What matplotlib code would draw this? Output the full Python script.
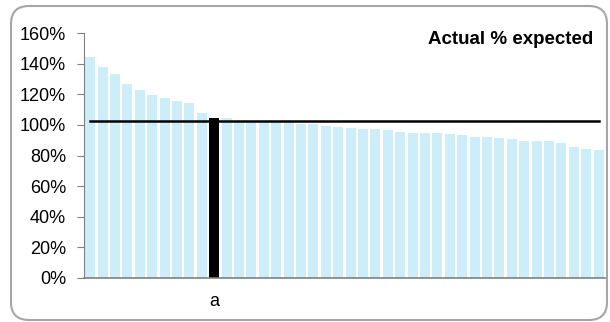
import numpy as np
import matplotlib
matplotlib.use('Agg')
import matplotlib.pyplot as plt
from matplotlib.patches import FancyBboxPatch

plt.rcParams['font.family'] = ['Liberation Sans', 'DejaVu Sans']

# actual % of expected, sorted descending
values = [144.7, 138.2, 133.4, 126.7, 122.9, 119.6, 117.7, 115.7, 114.4, 107.9,
          104.8, 104.4, 102.0, 102.0, 102.0, 102.0, 102.0, 100.9, 100.7, 99.6,
          98.7, 98.0, 97.4, 97.4, 96.7, 95.4, 95.0, 94.8, 94.8, 94.1,
          93.4, 92.4, 91.9, 91.3, 90.8, 89.5, 89.5, 89.5, 88.2, 85.4,
          84.3, 83.6]
highlight = 10          # the bar labelled "a"
highlight_label = 'a'
reference = 102.5       # overall average line
yticks = [0, 20, 40, 60, 80, 100, 120, 140, 160]

fig = plt.figure(figsize=(6.1, 3.22), dpi=100)

# rounded frame around the chart
bg = fig.add_axes([0, 0, 1, 1])
bg.set_xlim(0, 610)
bg.set_ylim(322, 0)
bg.axis('off')
bg.add_patch(FancyBboxPatch((11, 6), 596, 314, boxstyle='round,pad=0,rounding_size=18',
                            fc='white', ec='#a6a6a6', lw=1.5))

ax = fig.add_axes([84 / 610, 44.3 / 322, 520.8 / 610, 244.4 / 322])
ax.patch.set_alpha(0)
x = np.arange(len(values))
colors = ['#cdedf9'] * len(values)
colors[highlight] = 'black'
ax.bar(x, values, width=0.8, color=colors)
ax.plot([x[0], x[-1]], [reference, reference], color='black', lw=1.8)

ax.set_xlim(-0.5, len(values) - 0.5)
ax.set_ylim(0, 160)
ax.set_yticks(yticks)
ax.set_yticklabels([f'{t}%' for t in yticks], fontsize=13)
ax.set_xticks([highlight])
ax.set_xticklabels([highlight_label], fontsize=13)
ax.tick_params(axis='x', length=0, pad=11)
ax.tick_params(axis='y', length=5, color='#808080', pad=8)
for s in ['top', 'right']:
    ax.spines[s].set_visible(False)
ax.spines['left'].set_color('#808080')
ax.spines['bottom'].set_color('#808080')
ax.spines['bottom'].set_linewidth(1.2)

fig.text(593 / 610, 1 - 39 / 322, 'Actual % expected', ha='right', va='center',
         fontsize=13.5, fontweight='bold')

fig.savefig('out.png', dpi=100)
